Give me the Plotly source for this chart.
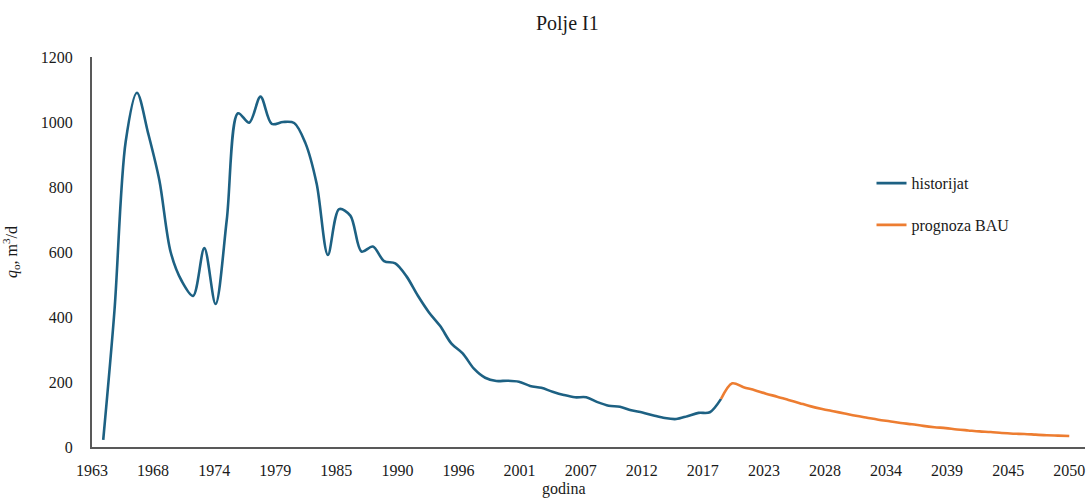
import plotly.graph_objects as go

# ---- data ----
hist_years = list(range(1964, 2020))
hist_values = [22, 420, 940, 1090, 965, 820, 600, 510, 465, 612,
               440, 700, 1027, 998, 1078, 994, 1000, 997, 935, 810,
               591, 732, 712, 601, 617, 572, 565, 525, 466, 414,
               372, 318, 288, 241, 213, 203, 204, 201, 188, 182,
               170, 160, 153, 153, 138, 127, 124, 113, 106, 97,
               89, 86, 95, 105, 107, 148]

fc_years = list(range(2019, 2051))
fc_values = [148, 196, 184, 175, 164, 155, 145, 135, 125, 117,
             110, 103, 96, 90, 84, 79, 74, 70, 65, 61,
             58, 54, 51, 48, 46, 43, 41, 40, 38, 36,
             35, 34]

tick_labels = ["1963", "1968", "1974", "1979", "1985", "1990", "1996", "2001",
               "2007", "2012", "2017", "2023", "2028", "2034", "2039", "2045", "2050"]
tick_vals = [1963 + i * 87 / 16 for i in range(len(tick_labels))]

FONT = "Liberation Serif"
BLUE = "#1D6183"
ORANGE = "#ED7D31"
AXIS = "#595959"
TXT = "#1a1a1a"

fig = go.Figure()
fig.add_trace(go.Scatter(x=hist_years, y=hist_values, mode="lines", name="historijat",
                         line=dict(color=BLUE, width=2.6, shape="spline", smoothing=0.9),
                         legendgroup="a"))
fig.add_trace(go.Scatter(x=fc_years, y=fc_values, mode="lines", name="prognoza BAU",
                         line=dict(color=ORANGE, width=2.6, shape="spline", smoothing=0.9),
                         legendgroup="b"))

fig.update_layout(
    width=1091, height=500,
    margin=dict(l=92, r=6, t=57, b=53, autoexpand=False),
    paper_bgcolor="white", plot_bgcolor="white",
    font=dict(family=FONT, size=16, color=TXT),
    title=dict(text="Polje I1", x=0.52, xref="container", xanchor="center",
               y=0.955, yref="container", yanchor="middle",
               font=dict(family=FONT, size=20, color=TXT)),
    showlegend=True,
    legend=dict(x=0.785, y=0.72, xanchor="left", yanchor="top",
                font=dict(family=FONT, size=16, color=TXT),
                bgcolor="rgba(0,0,0,0)", itemwidth=30, tracegroupgap=18),
    xaxis=dict(range=[1963, 2051.4], showgrid=False, zeroline=False, automargin=False,
               showline=True, linecolor=AXIS, linewidth=2,
               tickmode="array", tickvals=tick_vals, ticktext=tick_labels,
               ticks="", ticklabelstandoff=8,
               tickfont=dict(family=FONT, size=16, color=TXT)),
    yaxis=dict(range=[0, 1200], showgrid=False, zeroline=False, automargin=False,
               showline=True, linecolor=AXIS, linewidth=2,
               tickmode="array", tickvals=[0, 200, 400, 600, 800, 1000, 1200],
               ticks="", ticklabelstandoff=14,
               tickfont=dict(family=FONT, size=16, color=TXT),
               title=dict(text="<i>q</i><sub>o</sub>, m<sup>3</sup>/d", standoff=20,
                          font=dict(family=FONT, size=16, color=TXT))),
)

fig.add_annotation(text="godina", xref="paper", yref="paper",
                   x=(564 - 92) / 993, y=-0.108, xanchor="center", yanchor="middle",
                   showarrow=False, font=dict(family=FONT, size=16, color=TXT))

fig.write_html("out.html", config={"displayModeBar": False},
               post_script="document.body.style.margin='0';document.body.style.overflow='hidden';")
